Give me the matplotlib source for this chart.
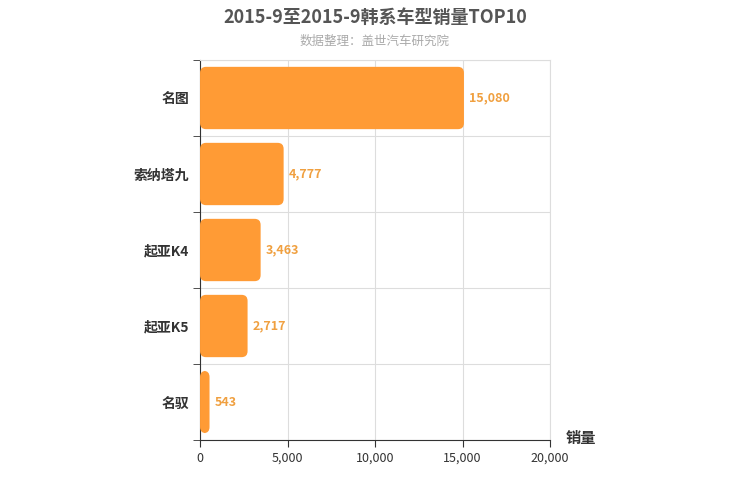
import matplotlib.pyplot as plt
from matplotlib.patches import FancyBboxPatch

plt.rcParams["font.family"] = "Noto Sans CJK SC"

models = ["名图", "索纳塔九", "起亚K4", "起亚K5", "名驭"]
sales = [15080, 4777, 3463, 2717, 543]
x_ticks = [0, 5000, 10000, 15000, 20000]

BAR_COLOUR = "#FF9B35"
LABEL_COLOUR = "#F0A040"

fig = plt.figure(figsize=(7.5, 5), dpi=100)
ax = fig.add_axes([0.2667, 0.12, 0.4667, 0.76])

n = len(models)
ax.set_xlim(0, 20000)
ax.set_ylim(0, n)
bar_h = 0.82
rx = 340
ry = 0.08
for i, (name, value) in enumerate(zip(models, sales)):
    yc = n - 1 - i + 0.5
    box = FancyBboxPatch(
        (0, yc - bar_h / 2), value, bar_h,
        boxstyle=f"round,pad=0,rounding_size={rx}",
        mutation_aspect=ry / rx,
        fc=BAR_COLOUR, ec="none", zorder=3,
    )
    ax.add_patch(box)
    ax.text(value + 300, yc, f"{value:,}", va="center", ha="left",
            color=LABEL_COLOUR, fontsize=9, fontweight="bold", zorder=4)

ax.set_yticks([n - 1 - i + 0.5 for i in range(n)])
ax.set_yticklabels(models, fontsize=10, fontweight="bold", color="#333333")
ax.set_yticks(range(n + 1), minor=True)
ax.set_xticks(x_ticks)
ax.set_xticklabels([f"{t:,}" for t in x_ticks], fontsize=9, color="#333333")
ax.tick_params(axis="y", which="major", length=0, pad=8)
ax.tick_params(axis="y", which="minor", length=5, color="#333333")
ax.tick_params(axis="x", length=5, color="#333333")
ax.grid(True, axis="x", color="#DDDDDD", lw=0.8, zorder=0)
ax.grid(True, axis="y", which="minor", color="#DDDDDD", lw=0.8, zorder=0)
for side in ("top", "right"):
    ax.spines[side].set_color("#DDDDDD")
for side in ("left", "bottom"):
    ax.spines[side].set_color("#333333")

fig.text(0.5, 0.965, "2015-9至2015-9韩系车型销量TOP10", ha="center", va="center",
         fontsize=13, fontweight="bold", color="#555555")
fig.text(0.5, 0.918, "数据整理：盖世汽车研究院", ha="center", va="center",
         fontsize=9, color="#AAAAAA")
fig.text(0.775, 0.123, "销量", ha="center", va="center",
         fontsize=11, fontweight="bold", color="#333333")

fig.savefig("out.png", dpi=100)
